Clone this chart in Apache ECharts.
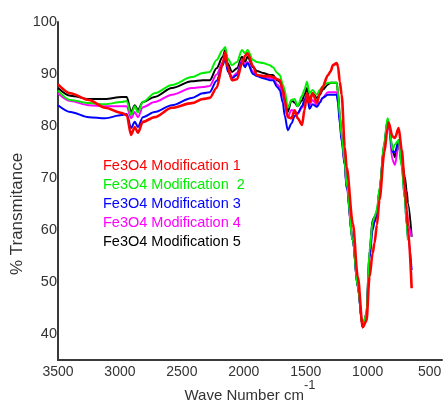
<!DOCTYPE html>
<html>
<head>
<meta charset="utf-8">
<script src="https://cdn.jsdelivr.net/npm/echarts@6/dist/echarts.min.js"></script>
<style>
  html, body { margin: 0; padding: 0; background: #fff; }
  #main { width: 443px; height: 402px; }
</style>
</head>
<body>
<div id="main"></div>
<script>
// wave numbers (cm-1), shared by all spectra
const waveNumbers = [3500, 3400, 3250, 3120, 2985, 2945, 2910, 2880, 2855, 2815, 2720, 2580, 2420, 2330, 2275, 2220, 2170, 2150, 2130, 2095,
  2055, 2015, 1990, 1970, 1925, 1895, 1845, 1790, 1765, 1730, 1710, 1685, 1670, 1645, 1615, 1590, 1565, 1530, 1510, 1490,
  1470, 1445, 1410, 1385, 1365, 1320, 1300, 1280, 1250, 1240, 1225, 1210, 1185, 1170, 1120, 1080, 1040, 1010, 985, 960,
  945, 925, 905, 865, 840, 830, 800, 780, 750, 725, 700, 685, 675, 645];

// % transmitance per sample
const mod1 = [88.0, 86.3, 85.0, 83.5, 82.5, 82.1, 78.3, 79.8, 78.7, 80.8, 81.7, 83.5, 84.4, 85.2, 85.4, 87.3, 92.0, 94.2, 91.3, 88.8,
  89.0, 92.0, 93.5, 94.0, 91.5, 89.8, 89.6, 89.6, 89.4, 89.0, 88.8, 87.0, 85.0, 81.7, 81.5, 83.0, 81.5, 80.2, 83.1, 86.3,
  84.5, 86.3, 84.5, 86.3, 87.5, 89.8, 90.5, 91.7, 92.1, 91.5, 88.5, 86.0, 76.0, 72.1, 61.3, 51.0, 41.3, 42.5, 51.0, 55.5,
  57.5, 61.0, 65.8, 75.0, 79.5, 80.6, 78.0, 77.7, 79.6, 75.4, 68.5, 63.8, 60.5, 48.8];
const mod2 = [86.8, 85.0, 84.4, 84.2, 84.6, 84.8, 82.1, 83.8, 82.6, 84.6, 86.3, 87.9, 89.4, 90.2, 90.4, 92.7, 94.6, 95.2, 93.0, 91.7,
  92.3, 94.6, 94.0, 94.6, 92.7, 92.3, 92.1, 91.7, 91.3, 90.2, 89.8, 88.0, 86.9, 83.5, 85.0, 85.2, 83.8, 85.8, 87.0, 88.5,
  86.3, 86.9, 86.0, 87.0, 87.5, 88.3, 88.3, 88.3, 88.3, 86.5, 82.0, 78.0, 73.0, 68.5, 58.0, 49.0, 41.3, 44.0, 56.0, 61.5,
  62.5, 64.0, 68.0, 77.0, 81.5, 81.0, 75.4, 76.5, 77.3, 72.0, 66.0, 61.0, 58.0, null];
const mod3 = [84.0, 82.7, 81.7, 81.5, 82.1, 82.3, 79.6, 80.8, 79.8, 81.7, 82.7, 84.0, 85.4, 86.3, 86.5, 88.7, 91.7, 93.1, 90.5, 89.2,
  89.8, 92.3, 91.3, 92.1, 90.0, 89.6, 89.2, 88.8, 88.8, 87.5, 86.9, 84.5, 82.0, 79.2, 80.5, 81.9, 82.5, 83.8, 85.0, 86.0,
  83.3, 84.2, 83.7, 84.5, 85.4, 86.0, 86.0, 86.0, 86.0, 84.5, 80.5, 77.0, 72.5, 68.0, 58.0, 49.0, 41.3, 43.5, 54.5, 60.0,
  61.5, 63.0, 67.5, 76.5, 81.0, 80.5, 75.0, 75.0, 77.0, 72.5, 66.0, 61.0, 58.5, 52.3];
const mod4 = [86.3, 84.8, 84.0, 83.8, 83.8, 83.8, 81.5, 82.7, 81.7, 83.6, 84.6, 86.0, 87.3, 87.5, 87.7, 89.9, 92.3, 93.7, 91.0, 89.4,
  90.2, 92.7, 91.7, 92.3, 90.4, 89.8, 89.4, 89.2, 89.2, 88.0, 87.5, 86.0, 84.4, 81.7, 83.1, 82.9, 82.3, 83.5, 84.6, 86.0,
  84.0, 85.0, 84.0, 84.6, 85.4, 86.5, 86.5, 86.5, 86.5, 85.0, 81.0, 77.5, 72.5, 68.0, 58.0, 49.0, 41.3, 44.0, 55.5, 61.0,
  62.0, 63.0, 67.5, 76.5, 80.5, 80.0, 73.5, 72.5, 76.5, 72.5, 68.5, 64.0, 61.0, 58.7];
const mod5 = [87.3, 85.8, 85.2, 85.2, 85.6, 85.6, 82.7, 84.0, 83.1, 84.6, 85.6, 87.3, 88.6, 88.8, 88.8, 91.1, 93.3, 94.6, 92.0, 90.4,
  91.1, 93.3, 92.3, 93.3, 91.3, 90.6, 90.2, 89.8, 89.8, 88.8, 88.5, 87.0, 85.6, 82.7, 85.0, 84.5, 83.8, 84.9, 86.0, 87.3,
  85.0, 86.3, 85.4, 86.0, 86.9, 88.0, 88.3, 88.3, 88.3, 86.5, 82.0, 78.0, 73.0, 68.5, 58.0, 49.0, 41.3, 44.0, 56.0, 61.9,
  62.5, 63.5, 67.7, 76.7, 81.0, 80.5, 75.5, 74.0, 77.3, 73.5, 70.2, 67.5, 65.2, 58.7];

const names = ['Fe3O4 Modification 1', 'Fe3O4 Modification  2', 'Fe3O4 Modification 3', 'Fe3O4 Modification 4', 'Fe3O4 Modification 5'];
const colors = ['#ff0000', '#00ee00', '#0000ff', '#ff00ff', '#000000'];
const spectra = [mod1, mod2, mod3, mod4, mod5];

const font = "'Liberation Sans', Arial, sans-serif";

let chartDom = document.getElementById('main');
let myChart = echarts.init(chartDom);

let series = spectra.map((vals, i) => ({
  name: names[i],
  type: 'line',
  showSymbol: false,
  smooth: 0.3,
  smoothMonotone: 'x',
  z: i === 0 ? 10 : 5 - i,
  lineStyle: { color: colors[i], width: i === 0 ? 2.6 : 2 },
  itemStyle: { color: colors[i] },
  data: waveNumbers.map((w, k) => [w, vals[k]])
}));

let option = {
  animation: false,
  grid: { left: 58, top: 22, width: 384, height: 338, containLabel: false, outerBoundsMode: 'none' },
  legend: {
    orient: 'vertical',
    left: 93,
    top: 151,
    icon: 'none',
    itemWidth: 0,
    itemHeight: 10,
    itemGap: 0,
    selectedMode: false,
    data: names.map((n, i) => ({ name: n, textStyle: { color: colors[i] } })),
    textStyle: { fontFamily: font, fontSize: 14.5, lineHeight: 19 }
  },
  xAxis: {
    type: 'value',
    inverse: true,
    min: 400,
    max: 3500,
    interval: 100,
    axisLine: { show: true, lineStyle: { color: '#3a3a3a', width: 2 } },
    axisTick: { show: false },
    splitLine: { show: false },
    axisLabel: {
      color: '#333',
      fontFamily: font,
      fontSize: 14,
      margin: 5,
      formatter: v => (v % 500 === 0 ? String(v) : '')
    },
    name: '{a|Wave Number cm}{b|-1}',
    nameLocation: 'middle',
    nameGap: 19,
    nameMoveOverlap: false,
    nameTextStyle: {
      color: '#333',
      rich: {
        a: { fontFamily: font, fontSize: 15, color: '#333', lineHeight: 24, verticalAlign: 'bottom' },
        b: { fontFamily: font, fontSize: 13, color: '#333', lineHeight: 13, verticalAlign: 'top' }
      }
    }
  },
  yAxis: {
    type: 'value',
    min: 35,
    max: 100,
    interval: 5,
    axisLine: { show: true, lineStyle: { color: '#3a3a3a', width: 2 } },
    axisTick: { show: false },
    splitLine: { show: false },
    axisLabel: {
      color: '#333',
      fontFamily: font,
      fontSize: 14.5,
      margin: 1,
      formatter: v => (v % 10 === 0 ? String(v) : '')
    },
    name: '% Transmitance',
    nameLocation: 'middle',
    nameRotate: 90,
    nameGap: 32,
    nameMoveOverlap: false,
    nameTextStyle: { color: '#333', fontFamily: font, fontSize: 17, padding: [0, 46, 0, 0] }
  },
  series: series
};

myChart.setOption(option);
</script>
</body>
</html>
